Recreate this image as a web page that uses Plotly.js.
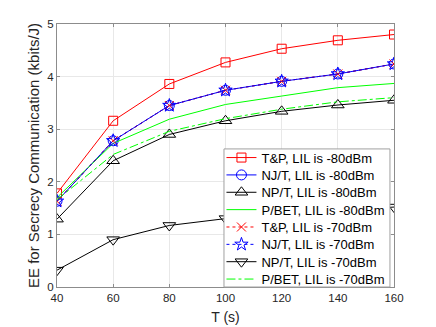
<!DOCTYPE html>
<html>
<head>
<meta charset="utf-8">
<script src="https://cdn.plot.ly/plotly-3.0.1.min.js"></script>
<style>
  html, body { margin: 0; padding: 0; background: #fff; }
  #chart { width: 436px; height: 327px; }
</style>
</head>
<body>
<div id="chart"></div>
<script>
// T (s)
const T = [40, 60, 80, 100, 120, 140, 160];

// EE values (kbits/J)
const tp80   = [1.78, 3.16, 3.86, 4.27, 4.53, 4.69, 4.80];
const njt80  = [1.63, 2.78, 3.45, 3.74, 3.91, 4.05, 4.24];
const npt80  = [1.29, 2.40, 2.90, 3.16, 3.34, 3.46, 3.55];
const pbet80 = [1.70, 2.73, 3.19, 3.47, 3.63, 3.79, 3.87];
const tp70   = [1.63, 2.78, 3.45, 3.74, 3.91, 4.05, 4.24];
const njt70  = [1.63, 2.78, 3.45, 3.74, 3.91, 4.05, 4.24];
const npt70  = [0.32, 0.90, 1.17, 1.30, 1.39, 1.46, 1.52];
const pbet70 = [1.66, 2.52, 2.96, 3.20, 3.38, 3.52, 3.60];

const names = [
  'T&P, LIL is -80dBm', 'NJ/T, LIL is -80dBm', 'NP/T, LIL is -80dBm', 'P/BET, LIL is -80dBm',
  'T&P, LIL is -70dBm', 'NJ/T, LIL is -70dBm', 'NP/T, LIL is -70dBm', 'P/BET, LIL is -70dBm'
];

// matlab style legend: one plotly legend per row so the rows sit tight,
// the box itself is a shape behind them
const legendTop = 0.525;   // paper y of box top
const rowStep = 0.066;     // paper units per row

function trace(i, y, color, dash, symbol, size) {
  return {
    x: T, y: y, name: names[i], type: 'scatter',
    legend: i === 0 ? 'legend' : 'legend' + (i + 1),
    mode: symbol ? 'lines+markers' : 'lines',
    line: { color: color, width: 1, dash: dash },
    marker: { symbol: symbol || 'circle', size: size || 9, color: color, line: { color: color, width: 1 } }
  };
}

const data = [
  trace(0, tp80,   '#ff0000', 'solid', 'square-open', 9),
  trace(1, njt80,  '#0000ff', 'solid', 'circle-open', 10),
  trace(2, npt80,  '#000000', 'solid', 'triangle-up-open', 11),
  trace(3, pbet80, '#00ff00', 'solid', null),
  trace(4, tp70,   '#ff0000', 'dot', 'x-thin-open', 9),
  trace(5, njt70,  '#0000ff', 'dot', 'star-open', 10),
  trace(6, npt70,  '#000000', 'solid', 'triangle-down-open', 11),
  trace(7, pbet70, '#00ff00', 'dashdot', null)
];

const layout = {
  width: 436, height: 327,
  margin: { l: 57, r: 42, t: 24, b: 40 },
  paper_bgcolor: '#fff', plot_bgcolor: '#fff',
  font: { family: 'Liberation Sans, Arial, sans-serif', size: 12, color: '#262626' },
  showlegend: true,
  xaxis: {
    range: [40, 160], dtick: 20, tick0: 40, automargin: false,
    showgrid: true, gridcolor: '#e8e8e8', zeroline: false,
    showline: true, linecolor: '#8c8c8c', mirror: 'ticks',
    ticks: 'inside', ticklen: 3, tickcolor: '#8c8c8c',
    tickfont: { size: 11.5 },
    title: { text: 'T (s)', font: { size: 14 }, standoff: 9 }
  },
  yaxis: {
    range: [0, 5], dtick: 1, automargin: false,
    showgrid: true, gridcolor: '#e8e8e8', zeroline: false,
    showline: true, linecolor: '#8c8c8c', mirror: 'ticks',
    ticks: 'inside', ticklen: 3, tickcolor: '#8c8c8c',
    tickfont: { size: 11.5 },
    title: { text: 'EE for Secrecy Communication (kbits/J)', font: { size: 15 }, standoff: 4 }
  },
  shapes: [{
    type: 'rect', xref: 'paper', yref: 'paper', layer: 'above',
    x0: 0.4955, x1: 0.988, y0: 0.0, y1: legendTop,
    fillcolor: '#ffffff', line: { color: '#a0a0a0', width: 1 }
  }]
};

for (let i = 0; i < names.length; i++) {
  layout[i === 0 ? 'legend' : 'legend' + (i + 1)] = {
    x: 0.488, y: legendTop - 0.033 - i * rowStep, xanchor: 'left', yanchor: 'middle',
    xref: 'paper', yref: 'paper',
    bgcolor: 'rgba(0,0,0,0)', borderwidth: 0,
    font: { size: 13, color: '#000' },
    itemwidth: 30
  };
}

Plotly.newPlot('chart', data, layout, { displayModeBar: false, staticPlot: true });
</script>
</body>
</html>
